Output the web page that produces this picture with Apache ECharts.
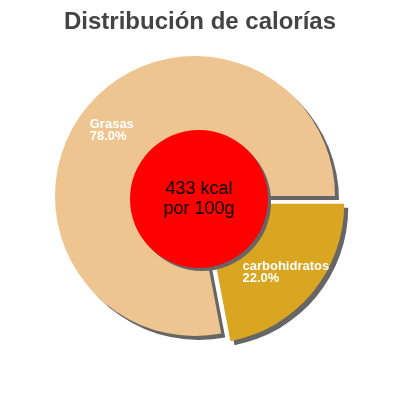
<!DOCTYPE html>
<html><head><meta charset="utf-8">
<script src="https://cdn.jsdelivr.net/npm/echarts@6/dist/echarts.min.js"></script>
<style>html,body{margin:0;padding:0;background:#fff}#c{width:400px;height:400px}</style>
</head><body><div id="c"></div>
<script>
const titleText = 'Distribución de calorías';
const categories = ['carbohidratos', 'Grasas'];
const percentages = [22.0, 78.0];
const sliceColors = ['#DAA520', '#EEC591'];
const centerLines = ['433 kcal', 'por 100g'];

const chart = echarts.init(document.getElementById('c'), null, {renderer: 'canvas'});
const labelShift = [[-18, 22], [-49, -19]];
chart.setOption({
  animation: false,
  title: {
    text: titleText, left: 'center', top: 5,
    textStyle: {fontFamily: 'Liberation Sans', fontSize: 24, fontWeight: 'bold', color: '#444'}
  },
  series: [
    {
      type: 'pie', center: [195, 196], radius: [0, 140],
      startAngle: 0, clockwise: true,
      selectedMode: 'single', selectedOffset: 12,
      itemStyle: {shadowColor: '#666', shadowOffsetX: 4, shadowOffsetY: 4, shadowBlur: 0},
      label: {
        position: 'inside', color: '#fff', fontSize: 13, fontWeight: 'bold', fontFamily: 'Liberation Sans', lineHeight: 12,
        formatter: p => p.name + '\n' + p.value.toFixed(1) + '%'
      },
      labelLayout: p => ({dx: labelShift[p.dataIndex][0], dy: labelShift[p.dataIndex][1], align: 'left', verticalAlign: 'middle'}),
      emphasis: {disabled: true},
      select: {itemStyle: {color: sliceColors[0]}},
      data: categories.map((c, i) => ({name: c, value: percentages[i], selected: i === 0, itemStyle: {color: sliceColors[i]}}))
    },
    {
      type: 'pie', center: [199, 199], radius: [0, 69], silent: true,
      itemStyle: {color: '#FF0000', shadowColor: '#666', shadowOffsetX: 3, shadowOffsetY: 3, shadowBlur: 0},
      label: {position: 'center', color: '#000', fontSize: 18, fontFamily: 'Liberation Sans', lineHeight: 20,
        formatter: () => centerLines.join('\n')},
      emphasis: {disabled: true},
      data: [{name: 'kcal', value: 1}]
    }
  ]
});
</script></body></html>
